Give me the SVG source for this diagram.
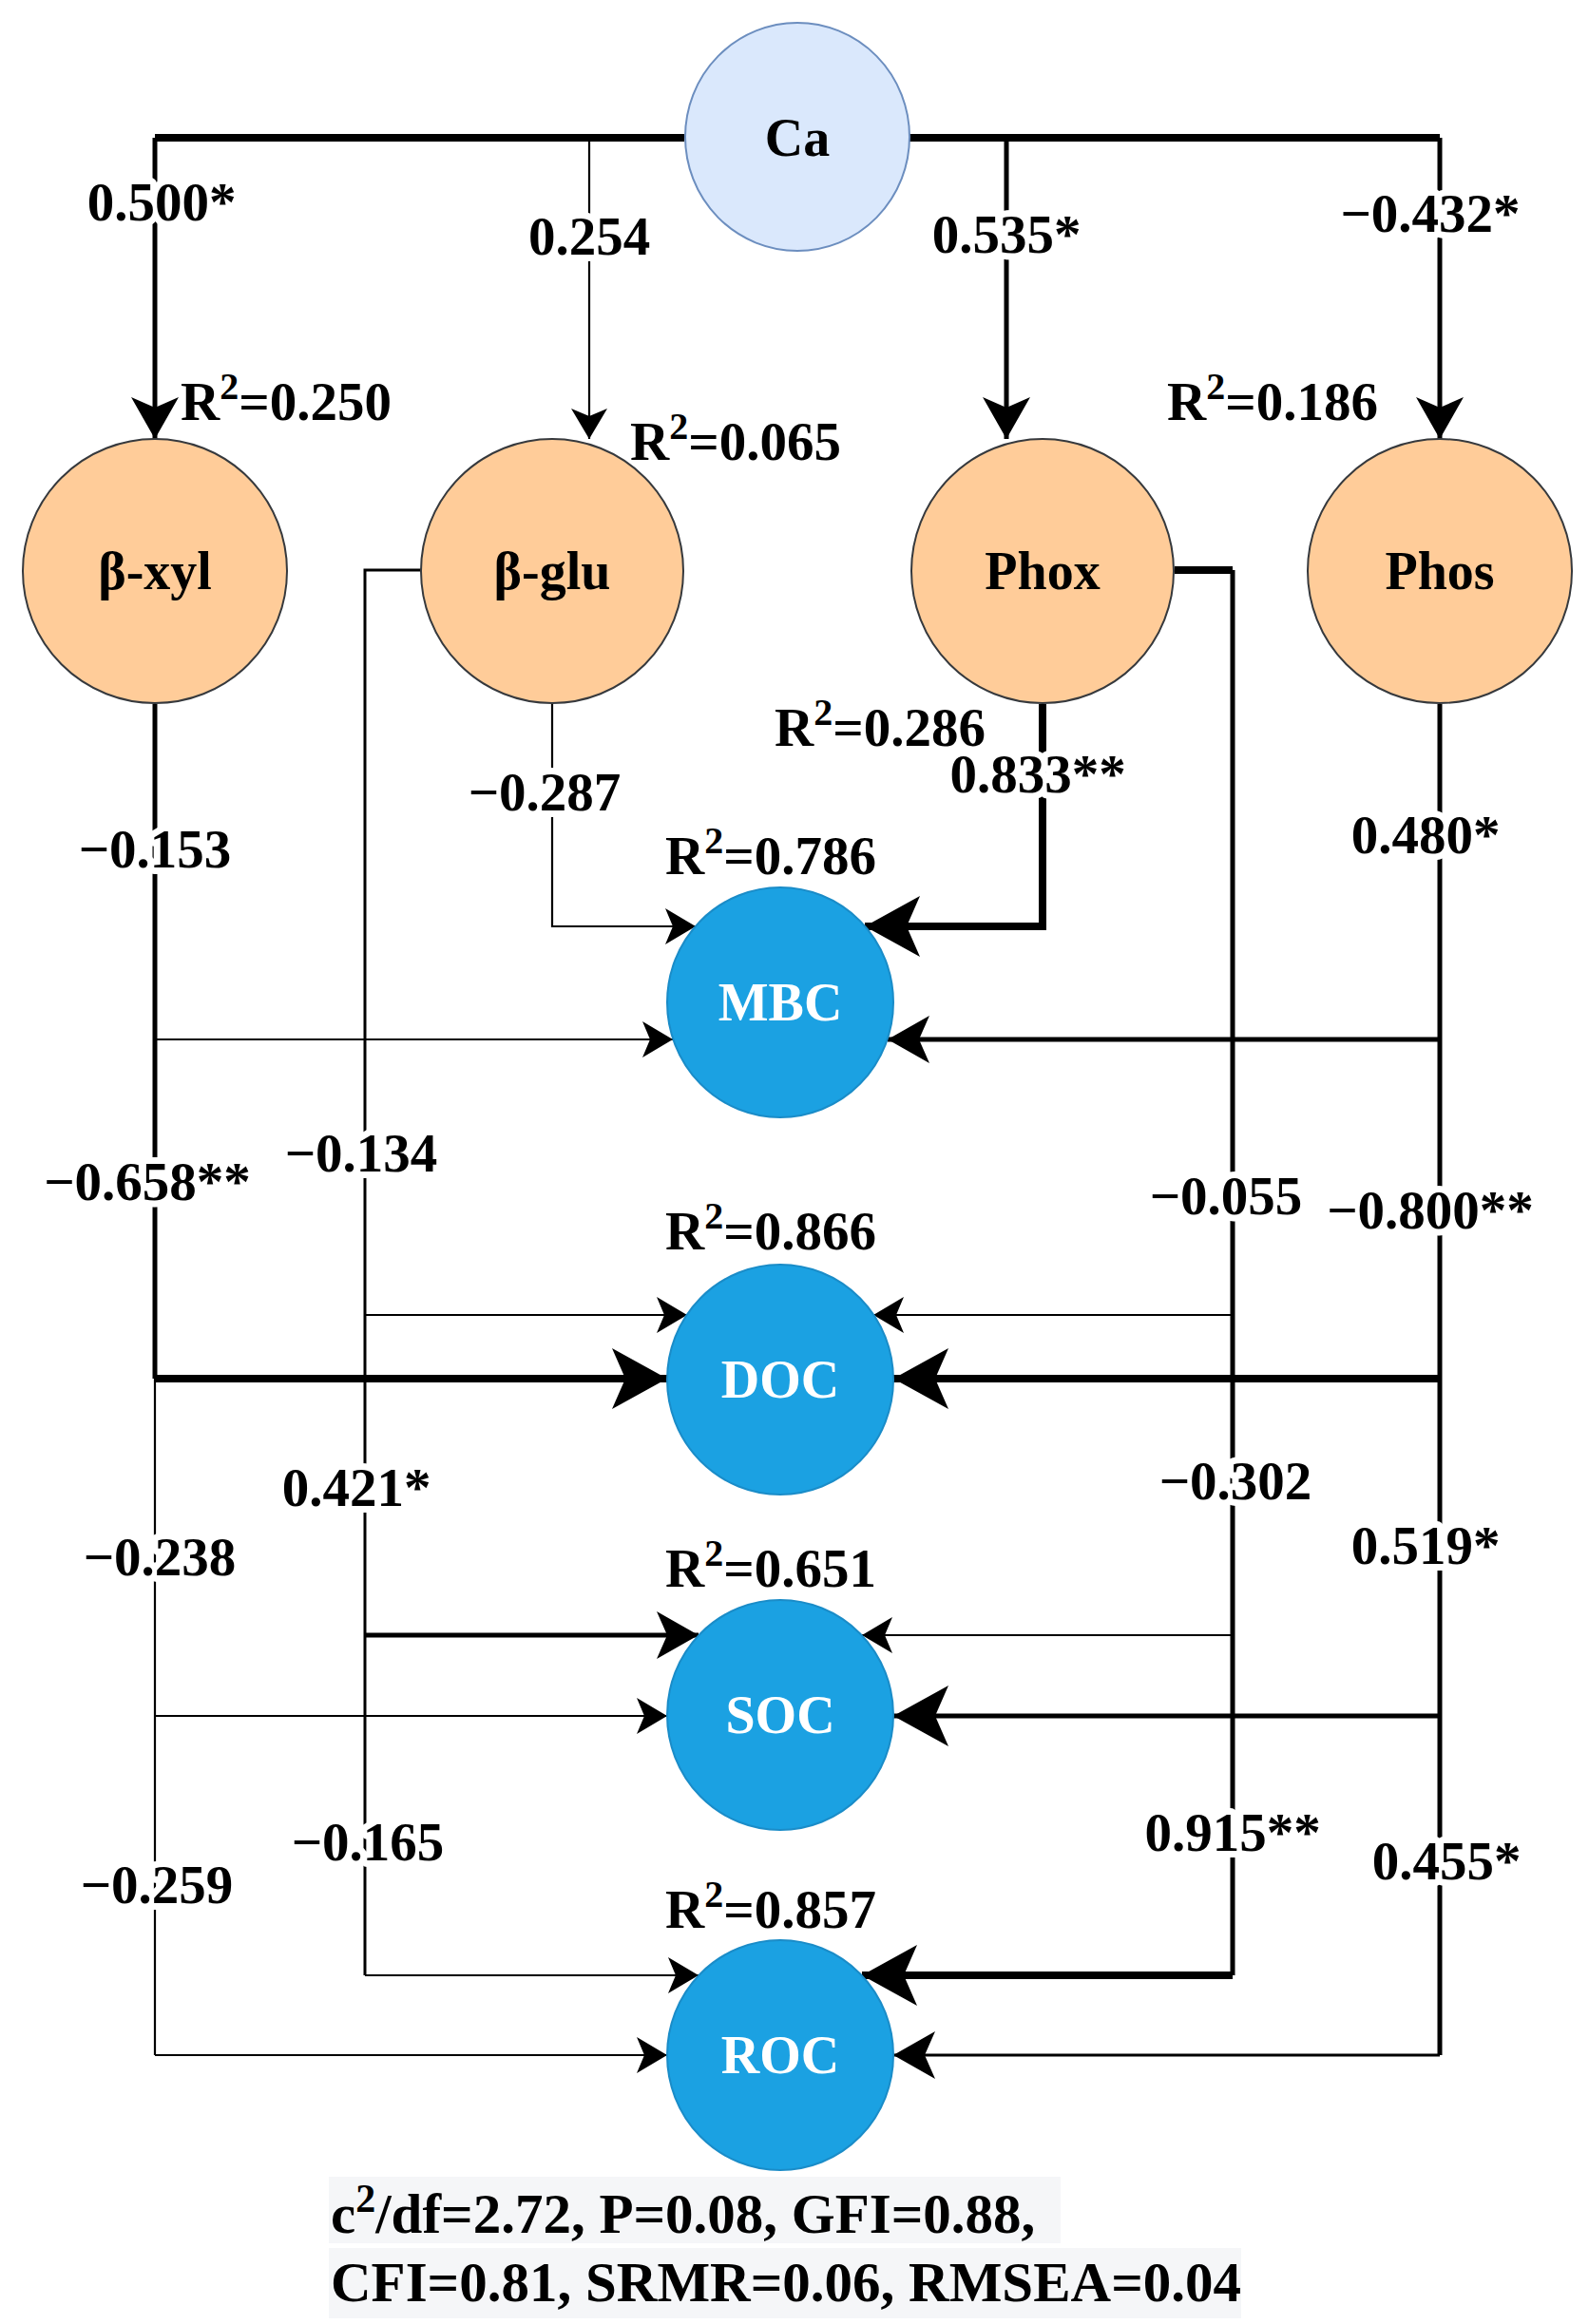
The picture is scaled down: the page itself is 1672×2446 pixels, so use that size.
<svg xmlns="http://www.w3.org/2000/svg" width="1672" height="2446" viewBox="0 0 1672 2446">
<style>
text{font-family:"Liberation Serif","Times New Roman",serif;font-weight:bold;font-size:57px;fill:#000}
.lbl{text-anchor:middle;paint-order:stroke;stroke:#fff;stroke-width:14px;stroke-linejoin:round}
.nt{text-anchor:middle;font-size:56px}
.wt{fill:#fff}
.ft{font-size:59px}
.c{fill:none;stroke:#000;stroke-linejoin:miter}
.w8{stroke-width:8}.w5{stroke-width:5}.w3{stroke-width:3}.w2{stroke-width:2.2}
</style>
<defs>
<marker id="aL" markerUnits="userSpaceOnUse" markerWidth="60" markerHeight="64" viewBox="0 0 60 64" refX="58" refY="32" orient="auto"><path d="M0,0 L58,32 L0,64 L14,32 Z" fill="#000"/></marker>
<marker id="aM" markerUnits="userSpaceOnUse" markerWidth="46" markerHeight="50" viewBox="0 0 46 50" refX="44" refY="25" orient="auto"><path d="M0,0 L44,25 L0,50 L11,25 Z" fill="#000"/></marker>
<marker id="aS" markerUnits="userSpaceOnUse" markerWidth="34" markerHeight="38" viewBox="0 0 34 38" refX="32" refY="19" orient="auto"><path d="M0,0 L32,19 L0,38 L8,19 Z" fill="#000"/></marker>
</defs>
<rect width="1672" height="2446" fill="#fff"/>
<g id="connectors">
<path class="c w8" d="M720,145 H163"/>
<path class="c w8" d="M957,145 H1515"/>
<path class="c w5" d="M163,145 V462" marker-end="url(#aM)"/>
<path class="c w2" d="M620,145 V462" marker-end="url(#aS)"/>
<path class="c w5" d="M1059,145 V462" marker-end="url(#aM)"/>
<path class="c w5" d="M1515,145 V462" marker-end="url(#aM)"/>
<path class="c w5" d="M163,741 V1451"/>
<path class="c w2" d="M163,1451 V2163"/>
<path class="c w2" d="M163,1094 H708" marker-end="url(#aS)"/>
<path class="c w8" d="M163,1451 H702" marker-end="url(#aL)"/>
<path class="c w2" d="M163,1806 H702" marker-end="url(#aS)"/>
<path class="c w2" d="M163,2163 H702" marker-end="url(#aS)"/>
<path class="c w3" d="M443,600 H384 V2079"/>
<path class="c w2" d="M384,1384 H723" marker-end="url(#aS)"/>
<path class="c w5" d="M384,1721 H735" marker-end="url(#aM)"/>
<path class="c w2" d="M384,2079 H735" marker-end="url(#aS)"/>
<path class="c w2" d="M581,741 V975 H732" marker-end="url(#aS)"/>
<path class="c w8" d="M1097,741 V975 H910" marker-end="url(#aL)"/>
<path class="c w8" d="M1236,600 H1297"/>
<path class="c w5" d="M1297,600 V2079"/>
<path class="c w2" d="M1297,1384 H919" marker-end="url(#aS)"/>
<path class="c w2" d="M1297,1721 H907" marker-end="url(#aS)"/>
<path class="c w8" d="M1297,2079 H907" marker-end="url(#aL)"/>
<path class="c w5" d="M1515,741 V2163"/>
<path class="c w5" d="M1515,1094 H934" marker-end="url(#aM)"/>
<path class="c w8" d="M1515,1451 H940" marker-end="url(#aL)"/>
<path class="c w5" d="M1515,1806 H940" marker-end="url(#aL)"/>
<path class="c w3" d="M1515,2163 H940" marker-end="url(#aM)"/>
</g>
<g id="labels">
<text class="lbl" x="170" y="232">0.500*</text>
<text class="lbl" x="620" y="268">0.254</text>
<text class="lbl" x="1059" y="266">0.535*</text>
<text class="lbl" x="1505" y="244">−0.432*</text>
<text class="lbl" x="573" y="853">−0.287</text>
<text class="lbl" x="1092" y="834">0.833**</text>
<text class="lbl" x="163" y="913">−0.153</text>
<text class="lbl" x="1500" y="898">0.480*</text>
<text class="lbl" x="155" y="1263">−0.658**</text>
<text class="lbl" x="380" y="1233">−0.134</text>
<text class="lbl" x="1290" y="1278">−0.055</text>
<text class="lbl" x="1505" y="1293">−0.800**</text>
<text class="lbl" x="375" y="1585">0.421*</text>
<text class="lbl" x="168" y="1658">−0.238</text>
<text class="lbl" x="1300" y="1578">−0.302</text>
<text class="lbl" x="1500" y="1646">0.519*</text>
<text class="lbl" x="387" y="1958">−0.165</text>
<text class="lbl" x="165" y="2003">−0.259</text>
<text class="lbl" x="1297" y="1948">0.915**</text>
<text class="lbl" x="1522" y="1978">0.455*</text>
<text x="190" y="442">R<tspan dy="-22" font-size="40">2</tspan><tspan dy="22">=0.250</tspan></text>
<text x="663" y="484">R<tspan dy="-22" font-size="40">2</tspan><tspan dy="22">=0.065</tspan></text>
<text x="1228" y="442">R<tspan dy="-22" font-size="40">2</tspan><tspan dy="22">=0.186</tspan></text>
<text x="815" y="785">R<tspan dy="-22" font-size="40">2</tspan><tspan dy="22">=0.286</tspan></text>
<text x="700" y="920">R<tspan dy="-22" font-size="40">2</tspan><tspan dy="22">=0.786</tspan></text>
<text x="700" y="1315">R<tspan dy="-22" font-size="40">2</tspan><tspan dy="22">=0.866</tspan></text>
<text x="700" y="1670">R<tspan dy="-22" font-size="40">2</tspan><tspan dy="22">=0.651</tspan></text>
<text x="700" y="2029">R<tspan dy="-22" font-size="40">2</tspan><tspan dy="22">=0.857</tspan></text>
</g>
<g id="Ca"><ellipse cx="839" cy="144" rx="118" ry="120" fill="#dae8fc" stroke="#6c8ebf" stroke-width="2"/><text class="nt" x="839" y="164">Ca</text></g>
<g id="bxyl"><ellipse cx="163" cy="601" rx="139" ry="139" fill="#ffcc99" stroke="#36393d" stroke-width="2"/><text class="nt" x="163" y="620">β-xyl</text></g>
<g id="bglu"><ellipse cx="581" cy="601" rx="138" ry="139" fill="#ffcc99" stroke="#36393d" stroke-width="2"/><text class="nt" x="581" y="620">β-glu</text></g>
<g id="Phox"><ellipse cx="1097" cy="601" rx="138" ry="139" fill="#ffcc99" stroke="#36393d" stroke-width="2"/><text class="nt" x="1097" y="620">Phox</text></g>
<g id="Phos"><ellipse cx="1515" cy="601" rx="139" ry="139" fill="#ffcc99" stroke="#36393d" stroke-width="2"/><text class="nt" x="1515" y="620">Phos</text></g>
<g id="MBC"><ellipse cx="821" cy="1055" rx="119" ry="121" fill="#1ba1e2" stroke="#1a8cc8" stroke-width="2"/><text class="nt wt" x="821" y="1074">MBC</text></g>
<g id="DOC"><ellipse cx="821" cy="1452" rx="119" ry="121" fill="#1ba1e2" stroke="#1a8cc8" stroke-width="2"/><text class="nt wt" x="821" y="1471">DOC</text></g>
<g id="SOC"><ellipse cx="821" cy="1805" rx="119" ry="121" fill="#1ba1e2" stroke="#1a8cc8" stroke-width="2"/><text class="nt wt" x="821" y="1824">SOC</text></g>
<g id="ROC"><ellipse cx="821" cy="2163" rx="119" ry="121" fill="#1ba1e2" stroke="#1a8cc8" stroke-width="2"/><text class="nt wt" x="821" y="2182">ROC</text></g>
<g id="fit">
<rect x="346" y="2291" width="770" height="70" fill="#f5f6f8"/>
<rect x="346" y="2366" width="960" height="74" fill="#f5f6f8"/>
<text class="ft" x="348" y="2350">c<tspan dy="-22" font-size="42">2</tspan><tspan dy="22">/df=2.72, P=0.08, GFI=0.88,</tspan></text>
<text class="ft" x="348" y="2422">CFI=0.81, SRMR=0.06, RMSEA=0.04</text>
</g>
</svg>
